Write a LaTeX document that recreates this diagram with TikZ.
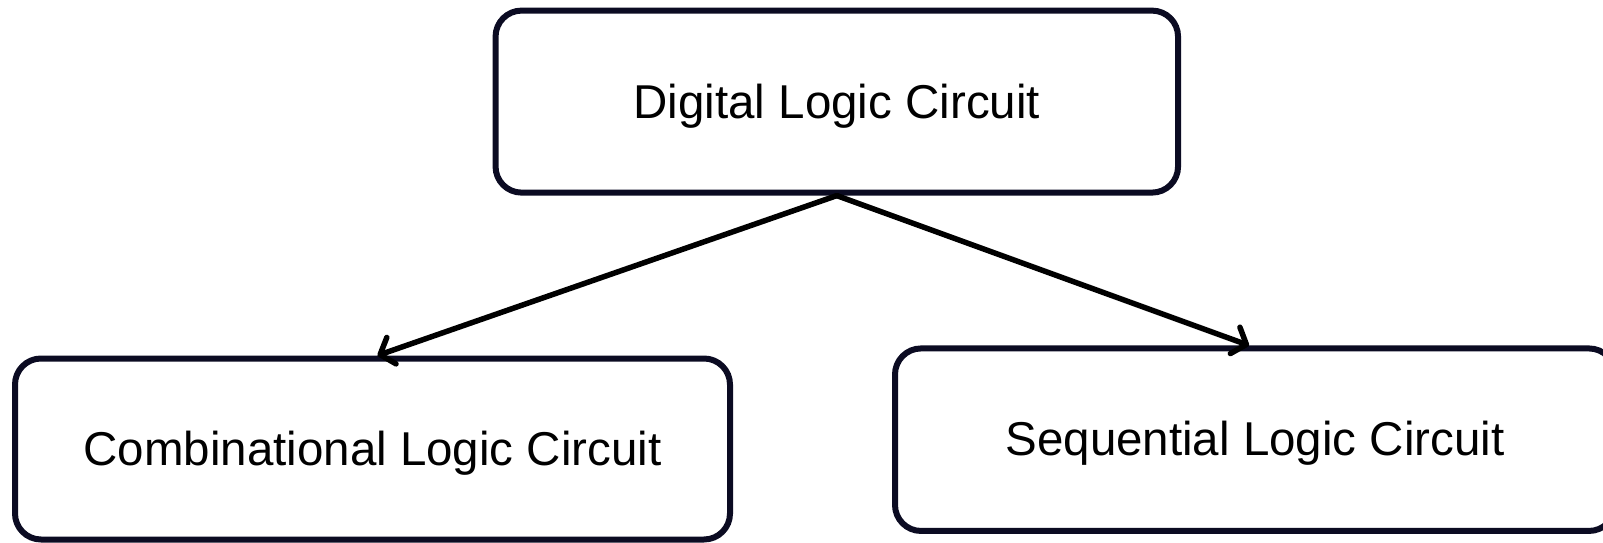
\documentclass[tikz,border=0pt]{standalone}
\usepackage{fontspec}
\setmainfont{Liberation Sans}
\usetikzlibrary{arrows.meta}
\definecolor{boxline}{HTML}{0B0B22}
\tikzset{
  box/.style={draw=boxline, line width=6pt, rounded corners=26pt, fill=white,
    inner sep=0pt, align=center, font=\fontsize{47.5}{56}\selectfont},
  label/.style={inner sep=0pt, font=\fontsize{47.5}{56}\selectfont},
  link/.style={draw=black, line width=5.5pt, line cap=round, line join=round,
    -{Straight Barb[length=12pt,width=28pt,line cap=round,line join=round]}}
}
\begin{document}
\begin{tikzpicture}[x=1pt,y=1pt]
  \useasboundingbox (0,0) rectangle (1603,542);
  % boxes
  \node[box, minimum width=682.5pt, minimum height=182pt] (top) at (836.8,440.4) {};
  \node[box, minimum width=715pt, minimum height=181pt] (comb) at (372.5,93) {};
  \node[box, minimum width=720pt, minimum height=182.5pt] (seq) at (1255,102.3) {};
  % labels, set a little below the box centres
  \node[label] (toplabel) at ([yshift=-5pt]top.center) {Digital Logic Circuit};
  \node[label] (comblabel) at ([yshift=-4pt]comb.center) {Combinational Logic Circuit};
  \node[label] (seqlabel) at ([yshift=-4pt]seq.center) {Sequential Logic Circuit};
  % connectors
  \draw[link] (top.south) -- ([xshift=5pt]comb.north);
  \draw[link] (top.south) -- ([xshift=-6pt]seq.north);
\end{tikzpicture}
\end{document}
